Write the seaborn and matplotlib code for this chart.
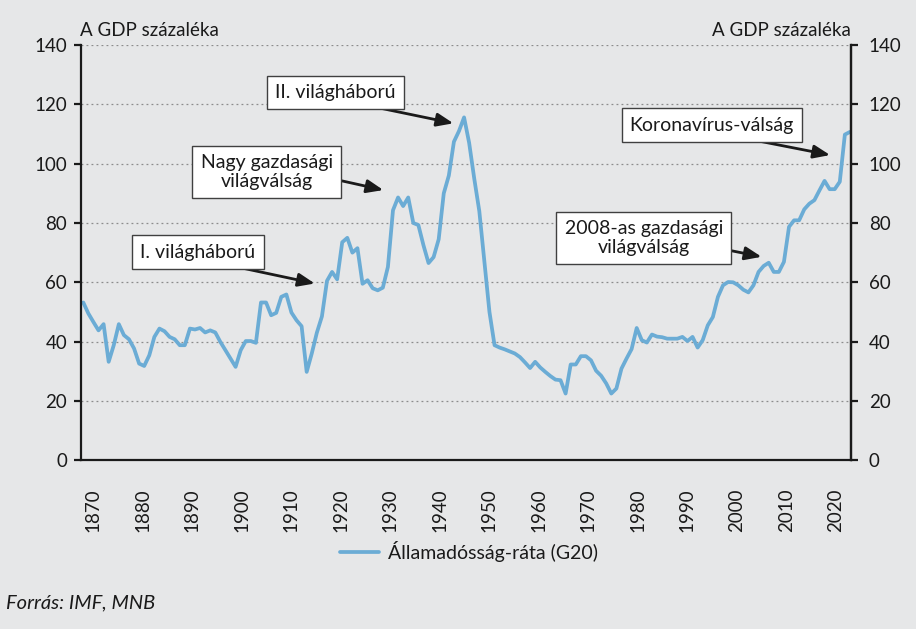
import numpy as np
import pandas as pd
import matplotlib
matplotlib.use("Agg")
import matplotlib.pyplot as plt
import seaborn as sns

# ---- data ----
years = list(range(1870, 2022))
debt = [
    53.2, 49.5, 46.6, 43.8, 45.9, 33.2, 38.8, 45.9, 42.2, 40.8,   # 1870-1879
    37.7, 32.6, 31.8, 35.4, 41.6, 44.4, 43.5, 41.6, 40.8, 38.8,   # 1880-1889
    38.8, 44.4, 44.1, 44.6, 43.1, 43.8, 43.1, 39.9, 37.1, 34.3,   # 1890-1899
    31.5, 37.1, 40.2, 40.2, 39.6, 53.2, 53.2, 48.9, 49.7, 55.1,   # 1900-1909
    55.9, 49.8, 47.2, 45.2, 29.8, 36.0, 43.0, 48.5, 60.5, 63.5,   # 1910-1919
    61.0, 73.5, 75.0, 70.0, 71.5, 59.5, 60.7, 58.0, 57.3, 58.2,   # 1920-1929
    65.2, 84.3, 88.6, 85.7, 88.6, 80.0, 79.3, 72.5, 66.5, 68.5,   # 1930-1939
    74.5, 90.0, 96.0, 107.4, 111.0, 115.6, 107.0, 95.0, 84.0, 67.0,  # 1940-1949
    50.0, 38.8, 38.0, 37.4, 36.7, 36.0, 34.8, 33.0, 31.1, 33.2,   # 1950-1959
    31.3, 29.8, 28.4, 27.2, 27.0, 22.5, 32.3, 32.3, 35.1, 35.1,   # 1960-1969
    33.7, 30.2, 28.5, 25.9, 22.5, 24.2, 30.9, 34.3, 37.5, 44.6,   # 1970-1979
    40.5, 39.7, 42.4, 41.7, 41.5, 41.0, 41.0, 41.0, 41.6, 40.2,   # 1980-1989
    41.6, 38.0, 40.5, 45.5, 48.3, 55.1, 59.0, 60.1, 60.0, 59.0,   # 1990-1999
    57.5, 56.6, 59.0, 63.5, 65.5, 66.6, 63.5, 63.5, 66.9, 78.7,   # 2000-2009
    80.9, 80.9, 84.6, 86.5, 87.7, 91.0, 94.2, 91.4, 91.4, 93.9,   # 2010-2019
    109.8, 110.7,                                                 # 2020-2021
]
tick_labels = ["1870", "1880", "1890", "1900", "1910", "1920", "1930", "1940",
               "1950", "1960", "1970", "1980", "1990", "2000", "2010", "2020"]
y_ticks = [0, 20, 40, 60, 80, 100, 120, 140]
series_name = "Államadósság-ráta (G20)"
unit_label = "A GDP százaléka"
source = "Forrás: IMF, MNB"
annotations = [
    # text, text position (year, value), arrow tail (year, value), arrow tip (year, value)
    ("I. világháború", (1892.6, 70.2), (1900.2, 65.2), (1915.6, 59.6)),
    ("Nagy gazdasági\nvilágválság", (1906.1, 97.2), (1920.4, 94.4), (1929.1, 91.1)),
    ("II. világháború", (1919.7, 124.0), (1927.1, 119.2), (1942.9, 113.6)),
    ("2008-as gazdasági\nvilágválság", (1980.4, 75.0), (1997.2, 70.8), (2003.6, 68.6)),
    ("Koronavírus-válság", (1993.8, 113.0), (2001.3, 108.2), (2017.1, 102.9)),
]

df = pd.DataFrame({"year": years, "debt": debt})

# ---- style ----
BG = "#E6E7E8"
LINE = "#6BACD5"
INK = "#1A1A1A"
sns.set_style("white")
plt.rcParams["font.family"] = ["Lato", "DejaVu Sans"]

W, H = 916, 629
fig = plt.figure(figsize=(W / 100, H / 100), dpi=100, facecolor=BG)
L, R, T, B = 81, 850.7, 45, 460.3
ax = fig.add_axes([L / W, 1 - B / H, (R - L) / W, (B - T) / H])
ax.set_facecolor(BG)

sns.lineplot(data=df, x="year", y="debt", ax=ax, color=LINE, linewidth=2.7,
             label=series_name, legend=False)

xmin, xmax = 1869.55, 2021.15
ax.set_xlim(xmin, xmax)
ax.set_ylim(0, 140)

# grid
for v in y_ticks[1:]:
    ax.axhline(v, color="#8C8C8C", linestyle=(0, (1.5, 2.5)), linewidth=0.9, zorder=0)

# spines
ax.spines["top"].set_visible(False)
for s in ["left", "right", "bottom"]:
    ax.spines[s].set_visible(True)
    ax.spines[s].set_color(INK)
    ax.spines[s].set_linewidth(1.6)

TFS = 13.5
# y ticks left
ax.set_yticks(y_ticks)
ax.set_yticklabels([str(v) for v in y_ticks], fontsize=TFS, color=INK)
ax.tick_params(axis="y", direction="out", length=5, width=1.6, pad=5, color=INK)

# x ticks: marks evenly spaced, labels in between
span = xmax - xmin
n_int = len(tick_labels)
ax.set_xticks([xmin + span * i / n_int for i in range(n_int + 1)])
ax.set_xticklabels([""] * (n_int + 1))
ax.tick_params(axis="x", which="major", direction="out", length=5, width=1.6, color=INK)
lab_pos = [xmin + span * (12.0 + 49.53 * i) / (R - L) for i in range(n_int)]
ax.set_xticks(lab_pos, minor=True)
ax.set_xticklabels(tick_labels, minor=True, rotation=90, fontsize=TFS, color=INK)
ax.tick_params(axis="x", which="minor", length=0, pad=20)
ax.set_xlabel("")
ax.set_ylabel("")

# right axis
ax2 = ax.twinx()
ax2.set_ylim(0, 140)
ax2.set_yticks(y_ticks)
ax2.set_yticklabels([str(v) for v in y_ticks], fontsize=TFS, color=INK)
ax2.tick_params(axis="y", direction="out", length=5, width=1.6, pad=8, color=INK)
for s in ["top", "left", "bottom"]:
    ax2.spines[s].set_visible(False)
ax2.spines["right"].set_color(INK)
ax2.spines["right"].set_linewidth(1.6)

# unit labels
fig.text(80 / W, 1 - 30 / H, unit_label, fontsize=13.5, ha="left", va="center", color=INK)
fig.text(851 / W, 1 - 30 / H, unit_label, fontsize=13.5, ha="right", va="center", color=INK)

# annotations
for text, tpos, tail, tip in annotations:
    ax.annotate("", xy=tip, xytext=tail,
                arrowprops=dict(arrowstyle="-|>,head_length=1.0,head_width=0.4",
                                color=INK, lw=2.0, shrinkA=0, shrinkB=0))
    ax.text(tpos[0], tpos[1], text, ha="center", va="center", fontsize=14,
            color=INK, linespacing=1.1,
            bbox=dict(boxstyle="square,pad=0.42", facecolor="white",
                      edgecolor="#404040", linewidth=1.0))

# legend
handles, labels = ax.get_legend_handles_labels()
leg = fig.legend(handles, labels, loc="center", bbox_to_anchor=(469 / W, 1 - 551 / H),
                 frameon=False, fontsize=14, handlelength=2.0, handletextpad=0.45)
for t in leg.get_texts():
    t.set_color(INK)

fig.text(6 / W, 1 - 603 / H, source, fontsize=14.5, style="italic", ha="left",
         va="center", color=INK)

fig.savefig("out.png", dpi=100, facecolor=BG)
